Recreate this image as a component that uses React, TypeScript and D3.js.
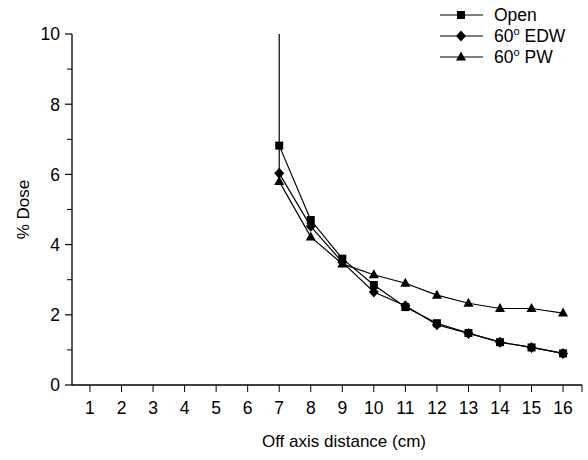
import React from 'react'
import * as d3 from 'd3'

// data
const distances = [7, 8, 9, 10, 11, 12, 13, 14, 15, 16]
const openDose = [6.82, 4.7, 3.6, 2.85, 2.22, 1.76, 1.48, 1.22, 1.07, 0.9]
const edwDose = [6.03, 4.52, 3.5, 2.65, 2.26, 1.72, 1.47, 1.22, 1.07, 0.9]
const pwDose = [5.8, 4.22, 3.45, 3.14, 2.9, 2.56, 2.33, 2.18, 2.18, 2.05]
const openEdgeTop = 10 // Open curve runs up off the top at 7 cm
const xTicks = d3.range(1, 17)
const yTicks = [0, 2, 4, 6, 8, 10]
const yMinorTicks = [1, 3, 5, 7, 9]

const W = 588
const H = 460
const margin = { top: 34, right: 6, bottom: 75, left: 72 }
const font = 'Arial, "Liberation Sans", Helvetica, sans-serif'

const Marker = ({ kind, x, y }: { kind: string; x: number; y: number }) => {
  if (kind === 'square') return <rect x={x - 4} y={y - 4} width={8} height={8} fill='#000' />
  if (kind === 'diamond')
    return <path d={`M${x},${y - 5.5}L${x + 5},${y}L${x},${y + 5.5}L${x - 5},${y}Z`} fill='#000' />
  return <path d={`M${x},${y - 5.5}L${x + 5},${y + 3.5}L${x - 5},${y + 3.5}Z`} fill='#000' />
}

const App = () => {
  const innerW = W - margin.left - margin.right
  const innerH = H - margin.top - margin.bottom
  const xScale = d3.scaleLinear().domain([0.43, 16.6]).range([0, innerW])
  const yScale = d3.scaleLinear().domain([0, 10]).range([innerH, 0])
  const line = d3
    .line<[number, number]>()
    .x((d) => xScale(d[0]))
    .y((d) => yScale(d[1]))

  const series = [
    { name: 'Open', kind: 'square', values: openDose },
    { name: 'EDW', kind: 'diamond', values: edwDose },
    { name: 'PW', kind: 'triangle', values: pwDose },
  ]

  const edgePath = line([
    [distances[0], openEdgeTop],
    [distances[0], pwDose[0]],
  ])

  const legendItems = [
    { label: 'Open', sup: false, kind: 'square' },
    { label: 'EDW', sup: true, kind: 'diamond' },
    { label: 'PW', sup: true, kind: 'triangle' },
  ]

  return (
    <svg
      width={W}
      height={H}
      style={{ position: 'absolute', left: 0, top: 0, background: '#fff' }}
      fontFamily={font}
    >
      <g transform={`translate(${margin.left},${margin.top})`}>
        {/* axes */}
        <line x1={0} y1={0} x2={0} y2={innerH} stroke='#000' strokeWidth={1.3} />
        <line x1={0} y1={innerH} x2={innerW} y2={innerH} stroke='#000' strokeWidth={1.3} />
        {yTicks.map((t) => (
          <g key={'y' + t}>
            <line x1={-7} x2={0} y1={yScale(t)} y2={yScale(t)} stroke='#000' strokeWidth={1.2} />
            <text x={-12} y={yScale(t)} dy='0.36em' textAnchor='end' fontSize={17.5}>
              {t}
            </text>
          </g>
        ))}
        {yMinorTicks.map((t) => (
          <line key={'ym' + t} x1={-5} x2={0} y1={yScale(t)} y2={yScale(t)} stroke='#000' />
        ))}
        {xTicks.map((t) => (
          <g key={'x' + t}>
            <line x1={xScale(t)} x2={xScale(t)} y1={innerH} y2={innerH + 7} stroke='#000' />
            <text x={xScale(t)} y={innerH + 29} textAnchor='middle' fontSize={17.5}>
              {t}
            </text>
          </g>
        ))}
        <line x1={innerW} x2={innerW} y1={innerH} y2={innerH + 7} stroke='#000' />
        <text x={innerW / 2 + 17} y={innerH + 62} textAnchor='middle' fontSize={17}>
          Off axis distance (cm)
        </text>
        <text
          transform={`translate(${-43},${innerH / 2}) rotate(-90)`}
          textAnchor='middle'
          fontSize={17}
        >
          % Dose
        </text>

        {/* data */}
        <path d={edgePath || ''} fill='none' stroke='#000' strokeWidth={1.2} />
        {series.map((s) => {
          const pts = distances.map((d, i) => [d, s.values[i]] as [number, number])
          return (
            <g key={s.name}>
              <path d={line(pts) || ''} fill='none' stroke='#000' strokeWidth={1.2} />
              {pts.map((p, i) => (
                <Marker key={i} kind={s.kind} x={xScale(p[0])} y={yScale(p[1])} />
              ))}
            </g>
          )
        })}
      </g>

      {/* legend */}
      {legendItems.map((it, i) => {
        const ly = 15 + i * 21
        return (
          <g key={it.label}>
            <line x1={440} x2={483} y1={ly} y2={ly} stroke='#000' strokeWidth={1.2} />
            <Marker kind={it.kind} x={461} y={ly} />
            <text x={494} y={ly} dy='0.36em' fontSize={17.5}>
              {it.sup ? (
                <>
                  60
                  <tspan dy={-7} fontSize={11}>
                    o
                  </tspan>
                  <tspan dy={7}> {it.label}</tspan>
                </>
              ) : (
                it.label
              )}
            </text>
          </g>
        )
      })}
    </svg>
  )
}

export default App
